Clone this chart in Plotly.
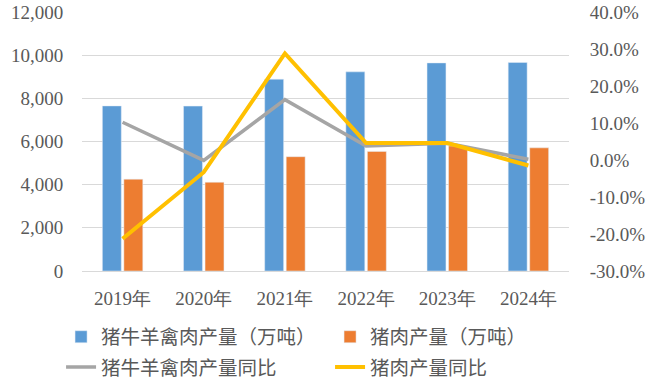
import plotly.graph_objects as go

years = ["2019年", "2020年", "2021年", "2022年", "2023年", "2024年"]
total_meat = [7649, 7639, 8887, 9227, 9641, 9663]
pork = [4255, 4113, 5296, 5541, 5794, 5706]
total_yoy = [0.102, -0.001, 0.163, 0.038, 0.045, 0.002]
pork_yoy = [-0.213, -0.033, 0.288, 0.046, 0.046, -0.015]

left_tickvals = [0, 2000, 4000, 6000, 8000, 10000, 12000]
left_ticktext = ["0", "2,000", "4,000", "6,000", "8,000", "10,000", "12,000"]
right_tickvals = [-0.3, -0.2, -0.1, 0.0, 0.1, 0.2, 0.3, 0.4]
right_ticktext = ["-30.0%", "-20.0%", "-10.0%", "0.0%", "10.0%", "20.0%", "30.0%", "40.0%"]

names = ["猪牛羊禽肉产量（万吨）", "猪肉产量（万吨）", "猪牛羊禽肉产量同比", "猪肉产量同比"]

serif = "Liberation Serif"
cjk = "Noto Sans CJK SC"
grey_txt = "#595959"

fig = go.Figure()
fig.add_trace(go.Bar(x=years, y=total_meat, name=names[0], marker_color="#5B9BD5",
                     yaxis="y", legend="legend"))
fig.add_trace(go.Bar(x=years, y=pork, name=names[1], marker_color="#ED7D31",
                     yaxis="y", legend="legend"))
fig.add_trace(go.Scatter(x=years, y=total_yoy, name=names[2], mode="lines",
                         line=dict(color="#A5A5A5", width=3.5), yaxis="y2", legend="legend2"))
fig.add_trace(go.Scatter(x=years, y=pork_yoy, name=names[3], mode="lines",
                         line=dict(color="#FFC000", width=4), yaxis="y2", legend="legend2"))

legend_common = dict(orientation="h", xanchor="left", yanchor="middle",
                     entrywidth=224, font=dict(family=cjk, size=19.5, color=grey_txt),
                     traceorder="normal", bgcolor="rgba(0,0,0,0)")

fig.update_layout(
    width=654, height=384,
    margin=dict(l=82, r=85, t=12, b=113, autoexpand=False),
    paper_bgcolor="white", plot_bgcolor="white",
    barmode="group", bargap=0.47, bargroupgap=0.12,
    font=dict(family=serif, size=19, color=grey_txt),
    xaxis=dict(showgrid=False, showline=True, linecolor="#D9D9D9", linewidth=1,
               ticks="outside", ticklen=10, tickcolor="rgba(0,0,0,0)", automargin=False,
               tickfont=dict(family=serif, size=19, color=grey_txt)),
    yaxis=dict(range=[0, 12000], tickvals=left_tickvals, ticktext=left_ticktext, showgrid=True,
               gridcolor="#D9D9D9", gridwidth=1, zeroline=False, automargin=False,
               ticks="outside", ticklen=14, tickcolor="rgba(0,0,0,0)",
               tickfont=dict(family=serif, size=19, color=grey_txt)),
    yaxis2=dict(range=[-0.3, 0.4], tickvals=right_tickvals, ticktext=right_ticktext,
                overlaying="y", side="right", showgrid=False, zeroline=False, automargin=False,
                ticks="outside", ticklen=16, tickcolor="rgba(0,0,0,0)",
                tickfont=dict(family=serif, size=19, color=grey_txt)),
    legend=dict(x=-0.043, y=-0.255, **legend_common),
    legend2=dict(x=-0.043, y=-0.372, **legend_common),
    showlegend=True,
)

fig.write_html("out.html", config={"displayModeBar": False},
               post_script="document.body.style.margin='0';")
